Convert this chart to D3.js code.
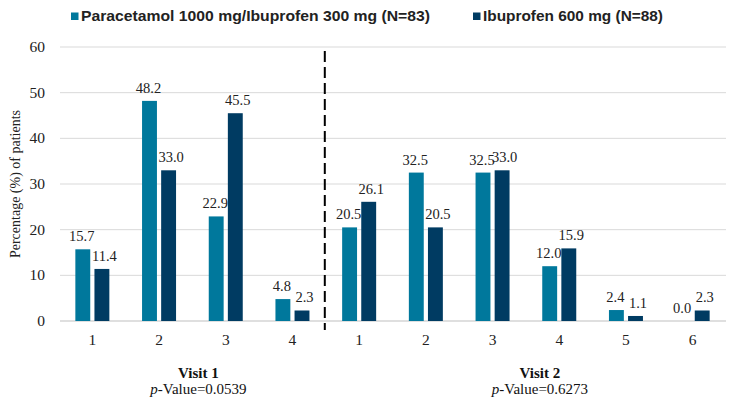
<!DOCTYPE html>
<html>
<head>
<meta charset="utf-8">
<script src="https://cdn.jsdelivr.net/npm/d3@7"></script>
<style>
  body { margin: 0; background: #fff; }
  svg { display: block; }
</style>
</head>
<body>
<div id="chart"></div>
<script>
// categories (visit / response score)
var categories = ["V1-1", "V1-2", "V1-3", "V1-4", "V2-1", "V2-2", "V2-3", "V2-4", "V2-5", "V2-6"];
var tickLabels = ["1", "2", "3", "4", "1", "2", "3", "4", "5", "6"];
var seriesNames = ["Paracetamol 1000 mg/Ibuprofen 300 mg (N=83)", "Ibuprofen 600 mg (N=88)"];
var paraIbu = [15.7, 48.2, 22.9, 4.8, 20.5, 32.5, 32.5, 12.0, 2.4, 0.0];
var ibu600 = [11.4, 33.0, 45.5, 2.3, 26.1, 20.5, 33.0, 15.9, 1.1, 2.3];
var yTicks = [0, 10, 20, 30, 40, 50, 60];
var visits = [
  { name: "Visit 1", p: "0.0539", first: "V1-1", last: "V1-4" },
  { name: "Visit 2", p: "0.6273", first: "V2-1", last: "V2-6" }
];

var colors = ["#00789c", "#003b62"];
var serif = "'Liberation Serif', 'Times New Roman', Times, serif";

var width = 737, height = 407;
var margin = { top: 47, right: 11, bottom: 86, left: 59 };

var svg = d3.select("#chart").append("svg")
    .attr("width", width)
    .attr("height", height);

var x = d3.scaleBand()
    .domain(categories)
    .range([margin.left, width - margin.right])
    .paddingInner(0)
    .paddingOuter(0);

var y = d3.scaleLinear()
    .domain([0, 60])
    .range([height - margin.bottom, margin.top]);

var xSub = d3.scaleBand()
    .domain([0, 1])
    .range([x.bandwidth() / 2 - 17, x.bandwidth() / 2 + 17])
    .paddingInner(0.22);

// gridlines
svg.append("g")
    .selectAll("line")
    .data(yTicks)
    .join("line")
    .attr("x1", margin.left + 1)
    .attr("x2", width - margin.right)
    .attr("y1", d => y(d))
    .attr("y2", d => y(d))
    .attr("stroke", d => d == 0 ? "#bfbfbf" : "#d9d9d9")
    .attr("stroke-width", 1);

// y tick labels
svg.append("g")
    .selectAll("text")
    .data(yTicks)
    .join("text")
    .attr("x", margin.left - 14)
    .attr("y", d => y(d) + 5)
    .attr("text-anchor", "end")
    .style("font-family", serif)
    .style("font-size", "15.5px")
    .style("fill", "#222")
    .text(d => d);

// y title
svg.append("text")
    .attr("transform", "translate(20," + ((margin.top + height - margin.bottom) / 2) + ") rotate(-90)")
    .attr("text-anchor", "middle")
    .style("font-family", serif)
    .style("font-size", "14px")
    .style("fill", "#222")
    .text("Percentage (%) of patients");

// bars
var rows = categories.map((c, i) => ({ cat: c, vals: [paraIbu[i], ibu600[i]] }));

var groups = svg.append("g")
    .selectAll("g")
    .data(rows)
    .join("g")
    .attr("transform", d => "translate(" + x(d.cat) + ",0)");

groups.selectAll("rect")
    .data(d => d.vals.map((v, k) => ({ k: k, v: v })))
    .join("rect")
    .attr("x", d => xSub(d.k))
    .attr("width", xSub.bandwidth())
    .attr("y", d => y(d.v))
    .attr("height", d => y(0) - y(d.v))
    .attr("fill", d => colors[d.k]);

groups.selectAll("text")
    .data(d => d.vals.map((v, k) => ({ k: k, v: v })))
    .join("text")
    .attr("x", d => xSub(d.k) + xSub.bandwidth() / 2 + (d.k == 0 ? -1 : 2.5))
    .attr("y", d => y(d.v) - 8)
    .attr("text-anchor", "middle")
    .style("font-family", serif)
    .style("font-size", "14.5px")
    .style("fill", "#222")
    .text(d => d.v.toFixed(1));

// x tick labels
svg.append("g")
    .selectAll("text")
    .data(categories)
    .join("text")
    .attr("x", (d, i) => x(d) + x.bandwidth() / 2)
    .attr("y", y(0) + 24)
    .attr("text-anchor", "middle")
    .style("font-family", serif)
    .style("font-size", "15.5px")
    .style("fill", "#222")
    .text((d, i) => tickLabels[i]);

// dashed separator between visits
var sepX = x("V2-1") - 1;
svg.append("line")
    .attr("x1", sepX).attr("x2", sepX)
    .attr("y1", y(60) + 4).attr("y2", y(0) + 9)
    .attr("stroke", "#000")
    .attr("stroke-width", 2)
    .attr("stroke-dasharray", "11,5");

// visit labels
var vg = svg.append("g")
    .selectAll("g")
    .data(visits)
    .join("g")
    .attr("transform", d => {
        var cx = (x(d.first) + x(d.last) + x.bandwidth()) / 2 + (d.name == "Visit 1" ? 6 : 14);
        return "translate(" + cx + ",0)";
    });

vg.append("text")
    .attr("y", 378)
    .attr("text-anchor", "middle")
    .style("font-family", serif)
    .style("font-size", "15px")
    .style("font-weight", "bold")
    .style("fill", "#111")
    .text(d => d.name);

var pt = vg.append("text")
    .attr("y", 394)
    .attr("text-anchor", "middle")
    .style("font-family", serif)
    .style("font-size", "15px")
    .style("fill", "#111");
pt.append("tspan").style("font-style", "italic").text("p");
pt.append("tspan").text(d => "-Value=" + d.p);

// legend
var legendX = [71, 473];
var legendW = [349, 180];
var legend = svg.append("g")
    .selectAll("g")
    .data(seriesNames)
    .join("g")
    .attr("transform", (d, i) => "translate(" + legendX[i] + ",16)");

legend.append("rect")
    .attr("x", 0).attr("y", -3.5)
    .attr("width", 7.5).attr("height", 7.5)
    .attr("fill", (d, i) => colors[i]);

legend.append("text")
    .attr("x", 10)
    .attr("y", 5)
    .attr("textLength", (d, i) => legendW[i])
    .attr("lengthAdjust", "spacingAndGlyphs")
    .style("font-family", "'Liberation Sans', Arial, sans-serif")
    .style("font-size", "14.5px")
    .style("font-weight", "bold")
    .style("fill", "#222")
    .text(d => d);
</script>
</body>
</html>
